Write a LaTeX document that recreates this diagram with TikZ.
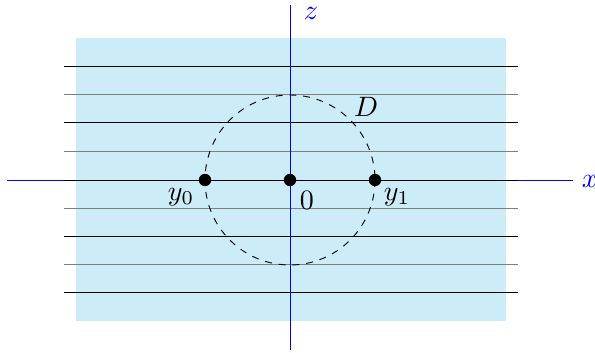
\documentclass[tikz,border=0pt]{standalone}
\definecolor{bgblue}{RGB}{204,236,248}
\begin{document}
\begin{tikzpicture}[x=0.435pt,y=-0.435pt,
  dotnode/.style={circle,fill=black,inner sep=0pt,minimum size=5.4pt},
  lbl/.style={inner sep=1pt,scale=1.22},
  axis/.style={blue,line width=0.4pt},
  blackline/.style={black,line width=0.4pt},
  grayline/.style={gray,line width=0.4pt}]
\useasboundingbox (0,0) rectangle (595,353);
\fill[bgblue] (76,38) rectangle (506,321);
\coordinate (xl) at (7,180);
\coordinate (xr) at (573,180);
\coordinate (zb) at (290,350);
\coordinate (zt) at (290,5);
\draw[axis] (xl) -- (xr);
\foreach \y in {66,122,180,236,292} \draw[blackline] (64,\y) -- (518,\y);
\foreach \y in {94,151,208,264} \draw[grayline] (64,\y) -- (518,\y);
\draw[axis] (zb) -- (zt);
\node[lbl,text=blue] (xlab) at (590,181) {$x$};
\node[lbl,text=blue] (zlab) at (311,13) {$z$};
\draw[dashed,line width=0.4pt] (290,180) circle[x radius=85,y radius=85];
\node[dotnode] (y0) at (205,180) {};
\node[dotnode] (o) at (290,180) {};
\node[dotnode] (y1) at (375,180) {};
\node[lbl] (y0lab) at (181,197) {$y_0$};
\node[lbl] (olab) at (307,200) {$0$};
\node[lbl] (y1lab) at (397,197) {$y_1$};
\node[lbl] (dlab) at (366,107) {$D$};
\end{tikzpicture}
\end{document}
